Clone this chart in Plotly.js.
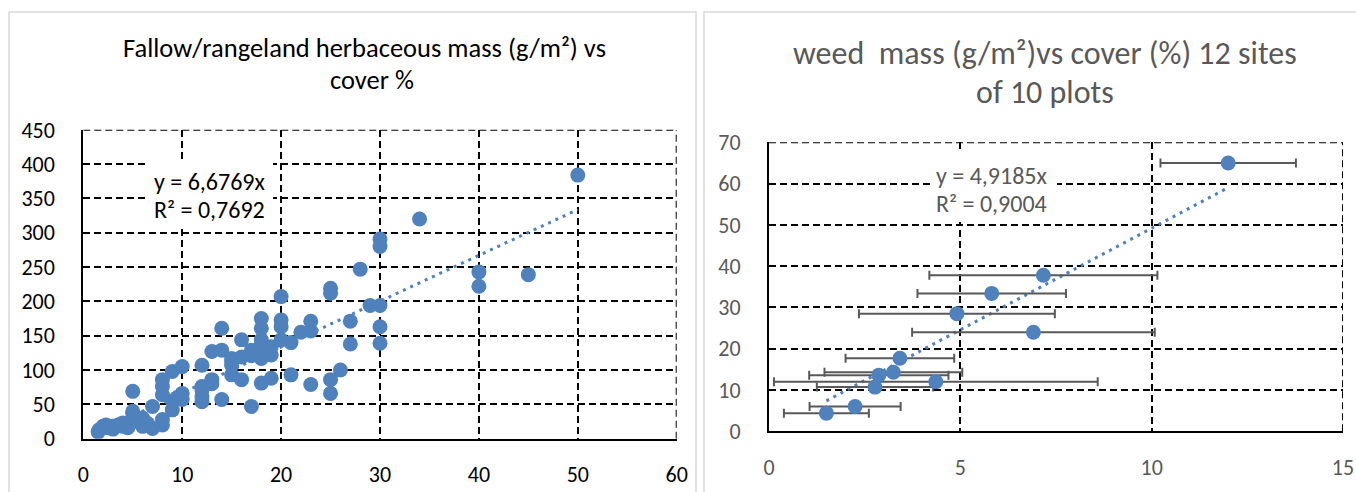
<!DOCTYPE html>
<html><head><meta charset="utf-8">
<script src="https://cdn.plot.ly/plotly-3.0.1.min.js"></script>
<style>html,body{margin:0;padding:0;background:#fff;overflow:hidden}#chart{width:1356px;height:492px}</style>
</head><body><div id="chart"></div>
<script>
// Left chart: fallow/rangeland herbaceous mass vs cover
const fallowCover = [1.5,1.6,2,2.3,2.5,3,3,3.5,4,4,4.5,5,5,5,5,5.5,6,6,6.5,7,7,8,8,8,8,8,9,9,9,9.5,10,10,10,
  12,12,12,12,12,13,13,13,14,14,14,15,15,15,15,16,16,16,17,17,17,18,18,18,18,18,18,18,19,19,19,
  20,20,20,20,21,21,22,23,23,23,25,25,25,25,26,27,27,28,29,30,30,30,30,30,34,40,40,45,50];
const fallowMass = [10,13,18,20,16,14,18,20,23,18,16,28,37,40,69,25,18,30,22,15,47,20,28,64,76,86,42,55,98,60,57,66,105,
  54,61,71,76,107,80,86,127,57,129,161,93,107,112,117,86,119,144,47,121,129,81,117,129,139,144,161,175,88,122,134,
  144,163,173,207,93,140,155,79,157,171,66,86,212,219,100,138,171,247,194,139,163,194,280,291,320,222,243,239,384];
const fallowSlope = 6.6769;
const fallowEq = ['y = 6,6769x', 'R² = 0,7692'];

// Right chart: weed mass vs cover, 12 sites of 10 plots
const weedCover = [12.0,7.17,5.82,4.91,6.91,3.42,3.25,2.87,4.36,2.77,2.25,1.50];
const weedMass = [65.0,37.8,33.4,28.5,24.0,17.7,14.3,13.6,12.0,10.7,6.0,4.4];
const weedCoverErr = [1.77,2.98,1.94,2.56,3.17,1.42,1.80,1.82,4.23,1.52,1.19,1.11];
const weedSlope = 4.9185;
const weedEq = ['y = 4,9185x', 'R² = 0,9004'];

const leftTitle = ['Fallow/rangeland herbaceous mass (g/m²) vs', 'cover %'];
const rightTitle = ['weed  mass (g/m²)vs cover (%) 12 sites', 'of 10 plots'];
const leftXTicks = [0,10,20,30,40,50,60];
const leftYTicks = [0,50,100,150,200,250,300,350,400,450];
const rightXTicks = [0,5,10,15];
const rightYTicks = [0,10,20,30,40,50,60,70];

const W = 1356, H = 492;
const px = v => v / W, py = v => 1 - v / H;
const FONT = 'Carlito, Lato, sans-serif';
const BLUE = '#4F81BD';
const GRAY = '#595959';
const DASH = '7px,4px';
const GW = 2;

function trend(xs, slope) {
  const lo = Math.min(...xs), hi = Math.max(...xs);
  return {x: [lo, hi], y: [lo * slope, hi * slope]};
}
const tL = trend(fallowCover, fallowSlope);
const tR = trend(weedCover, weedSlope);

const traces = [
  {type: 'scatter', mode: 'lines', x: tL.x, y: tL.y, xaxis: 'x', yaxis: 'y',
   line: {color: BLUE, width: 3, dash: '3px,5px'}, hoverinfo: 'skip'},
  {type: 'scatter', mode: 'markers', x: fallowCover, y: fallowMass, xaxis: 'x', yaxis: 'y',
   marker: {color: BLUE, size: 15}},
  {type: 'scatter', mode: 'lines', x: tR.x, y: tR.y, xaxis: 'x2', yaxis: 'y2',
   line: {color: BLUE, width: 3, dash: '3px,5px'}, hoverinfo: 'skip'},
  {type: 'scatter', mode: 'markers', x: weedCover, y: weedMass, xaxis: 'x2', yaxis: 'y2',
   marker: {color: BLUE, size: 15},
   error_x: {type: 'data', array: weedCoverErr, visible: true, color: GRAY, thickness: 2, width: 4.5}}
];

function ax(domain, range, ticks, color, standoff, anchor) {
  return {
    domain: domain, range: range, tickmode: 'array', tickvals: ticks, anchor: anchor,
    showgrid: true, gridcolor: '#000', gridwidth: GW, griddash: DASH,
    zeroline: false, showline: true, linecolor: '#000', linewidth: 2,
    ticks: '', ticklabelstandoff: standoff, fixedrange: true,
    tickfont: {family: FONT, size: 22, color: color}
  };
}

const layout = {
  width: W, height: H, margin: {l: 0, r: 0, t: 0, b: 0},
  paper_bgcolor: '#fff', plot_bgcolor: '#fff', showlegend: false,
  xaxis: ax([px(83.3), px(676.7)], [0, 60], leftXTicks, '#000', 15, 'y'),
  yaxis: ax([py(438.7), py(129.8)], [0, 450], leftYTicks, '#000', 22, 'x'),
  xaxis2: ax([px(769), px(1343)], [0, 15], rightXTicks, GRAY, 15, 'y2'),
  yaxis2: ax([py(431.3), py(142.3)], [0, 70], rightYTicks, GRAY, 22, 'x2'),
  shapes: [
    {type: 'rect', xref: 'paper', yref: 'paper', x0: px(9), x1: px(696), y0: py(495), y1: py(12), line: {color: '#d9d9d9', width: 1.5}},
    {type: 'rect', xref: 'paper', yref: 'paper', x0: px(704), x1: px(1360), y0: py(495), y1: py(12), line: {color: '#d9d9d9', width: 1.5}},
    {type: 'line', xref: 'x', yref: 'y', x0: 0, x1: 60, y0: 450, y1: 450, line: {color: '#000', width: GW, dash: DASH}},
    {type: 'line', xref: 'x', yref: 'y', x0: 60, x1: 60, y0: 0, y1: 450, line: {color: '#000', width: GW, dash: DASH}},
    {type: 'line', xref: 'x2', yref: 'y2', x0: 0, x1: 15, y0: 70, y1: 70, line: {color: '#000', width: GW, dash: DASH}},
    {type: 'line', xref: 'x2', yref: 'y2', x0: 15, x1: 15, y0: 0, y1: 70, line: {color: '#000', width: GW, dash: DASH}},
    {type: 'rect', xref: 'paper', yref: 'paper', x0: px(146), x1: px(273), y0: py(228), y1: py(160), fillcolor: '#fff', line: {width: 0}, layer: 'above'},
    {type: 'rect', xref: 'paper', yref: 'paper', x0: px(930), x1: px(1057), y0: py(222), y1: py(152), fillcolor: '#fff', line: {width: 0}, layer: 'above'}
  ],
  annotations: [
    {xref: 'paper', yref: 'paper', x: px(364), y: py(48), xanchor: 'center', yanchor: 'middle', showarrow: false,
     text: leftTitle[0], font: {family: FONT, size: 26.5, color: '#000'}},
    {xref: 'paper', yref: 'paper', x: px(372), y: py(80), xanchor: 'center', yanchor: 'middle', showarrow: false,
     text: leftTitle[1], font: {family: FONT, size: 26.5, color: '#000'}},
    {xref: 'paper', yref: 'paper', x: px(1045), y: py(54), xanchor: 'center', yanchor: 'middle', showarrow: false,
     text: rightTitle[0], font: {family: FONT, size: 32, color: GRAY}},
    {xref: 'paper', yref: 'paper', x: px(1045), y: py(93), xanchor: 'center', yanchor: 'middle', showarrow: false,
     text: rightTitle[1], font: {family: FONT, size: 32, color: GRAY}},
    {xref: 'paper', yref: 'paper', x: px(152), y: py(182), xanchor: 'left', yanchor: 'middle', showarrow: false,
     text: fallowEq[0], font: {family: FONT, size: 24, color: '#000'}},
    {xref: 'paper', yref: 'paper', x: px(152), y: py(210), xanchor: 'left', yanchor: 'middle', showarrow: false,
     text: fallowEq[1], font: {family: FONT, size: 24, color: '#000'}},
    {xref: 'paper', yref: 'paper', x: px(934), y: py(175), xanchor: 'left', yanchor: 'middle', showarrow: false,
     text: weedEq[0], font: {family: FONT, size: 24, color: GRAY}},
    {xref: 'paper', yref: 'paper', x: px(934), y: py(203), xanchor: 'left', yanchor: 'middle', showarrow: false,
     text: weedEq[1], font: {family: FONT, size: 24, color: GRAY}}
  ]
};

Plotly.newPlot('chart', traces, layout, {displayModeBar: false, staticPlot: true});
</script>
</body></html>
